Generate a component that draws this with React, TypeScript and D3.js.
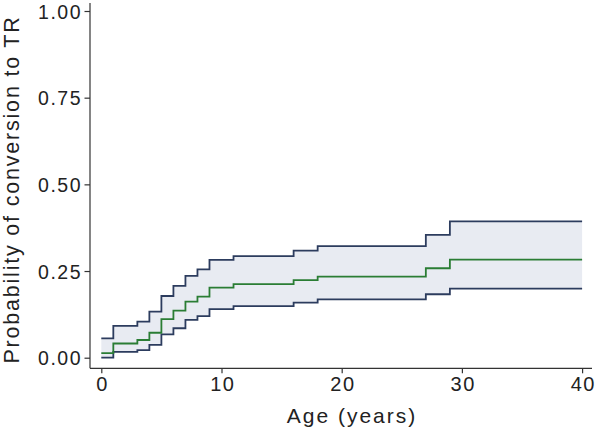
import React, { useEffect, useRef } from "react";
import * as d3 from "d3";

const times = [0, 1, 3, 4, 5, 6, 7, 8, 9, 11, 16, 18, 27, 29, 40];
const estimate = [0.013, 0.041, 0.051, 0.072, 0.111, 0.136, 0.162, 0.176, 0.202, 0.212, 0.224, 0.234, 0.258, 0.283, 0.283];
const upper = [0.056, 0.092, 0.104, 0.133, 0.178, 0.207, 0.236, 0.255, 0.282, 0.293, 0.309, 0.322, 0.354, 0.393, 0.393];
const lower = [0.0, 0.017, 0.022, 0.037, 0.067, 0.085, 0.109, 0.12, 0.14, 0.149, 0.159, 0.168, 0.183, 0.199, 0.199];
const xTicks = [0, 10, 20, 30, 40];
const yTicks = [0, 0.25, 0.5, 0.75, 1.0];
const xTitle = "Age (years)";
const yTitle = "Probability of conversion to TR";

const W = 596;
const H = 430;
const FONT = "Liberation Sans, Arial, Helvetica, sans-serif";

export default function App() {
  const ref = useRef<SVGSVGElement | null>(null);

  useEffect(() => {
    const svg = d3.select(ref.current);
    svg.selectAll("*").remove();

    const x = d3.scaleLinear().domain([0, 40]).range([101.3, 582.1]);
    const y = d3.scaleLinear().domain([0, 1]).range([357.7, 11]);
    const axisX = 90;
    const axisY = 368.3;

    const rows = times.map((t, i) => ({ t, est: estimate[i], lo: lower[i], hi: upper[i] }));

    const area = d3
      .area<any>()
      .curve(d3.curveStepAfter)
      .x((d) => x(d.t))
      .y0((d) => y(d.lo))
      .y1((d) => y(d.hi));

    svg.append("path").attr("d", area(rows)).attr("fill", "#e8ebf2").attr("stroke", "none");

    const line = (key: "est" | "lo" | "hi") =>
      d3
        .line<any>()
        .curve(d3.curveStepAfter)
        .x((d) => x(d.t))
        .y((d) => y(d[key]))(rows);

    svg.append("path").attr("d", line("hi")).attr("fill", "none").attr("stroke", "#2c3c5e").attr("stroke-width", 1.8);
    svg.append("path").attr("d", line("lo")).attr("fill", "none").attr("stroke", "#2c3c5e").attr("stroke-width", 1.8);
    svg.append("path").attr("d", line("est")).attr("fill", "none").attr("stroke", "#2a7d34").attr("stroke-width", 1.8);

    // Y axis
    const gy = svg.append("g").attr("transform", `translate(${axisX},0)`);
    gy.call(
      d3
        .axisLeft(y)
        .tickValues(yTicks)
        .tickSize(5.5)
        .tickPadding(2.5)
        .tickFormat((d: any) => d3.format(".2f")(d))
    );
    gy.select(".domain").remove();
    gy.selectAll(".tick line").attr("stroke", "#333").attr("stroke-width", 1.2);
    gy.selectAll(".tick text")
      .attr("fill", "#222")
      .attr("font-family", FONT)
      .attr("font-size", 19.5)
      .attr("letter-spacing", 1.5)
      .attr("dy", "0.37em");
    svg
      .append("line")
      .attr("x1", axisX)
      .attr("x2", axisX)
      .attr("y1", 3)
      .attr("y2", axisY)
      .attr("stroke", "#333")
      .attr("stroke-width", 1.2);

    // X axis
    const gx = svg.append("g").attr("transform", `translate(0,${axisY})`);
    gx.call(d3.axisBottom(x).tickValues(xTicks).tickSize(5).tickPadding(4).tickFormat((d: any) => String(d)));
    gx.select(".domain").remove();
    gx.selectAll(".tick line").attr("stroke", "#333").attr("stroke-width", 1.2);
    gx.selectAll(".tick text")
      .attr("fill", "#222")
      .attr("font-family", FONT)
      .attr("font-size", 20)
      .attr("letter-spacing", 1.5)
      .attr("dx", 0.75);
    svg
      .append("line")
      .attr("x1", axisX)
      .attr("x2", 592)
      .attr("y1", axisY)
      .attr("y2", axisY)
      .attr("stroke", "#333")
      .attr("stroke-width", 1.2);

    // Titles
    svg
      .append("text")
      .attr("x", 352)
      .attr("y", 423.3)
      .attr("text-anchor", "middle")
      .attr("font-family", FONT)
      .attr("font-size", 21)
      .attr("letter-spacing", 2)
      .attr("fill", "#222")
      .text(xTitle);

    svg
      .append("text")
      .attr("transform", `translate(18.5,189.5) rotate(-90)`)
      .attr("text-anchor", "middle")
      .attr("font-family", FONT)
      .attr("font-size", 21.5)
      .attr("letter-spacing", 1.8)
      .attr("fill", "#222")
      .text(yTitle);
  }, []);

  return (
    <svg
      ref={ref}
      width={W}
      height={H}
      viewBox={`0 0 ${W} ${H}`}
      style={{ position: "absolute", left: 0, top: 0, background: "#fff" }}
    />
  );
}
